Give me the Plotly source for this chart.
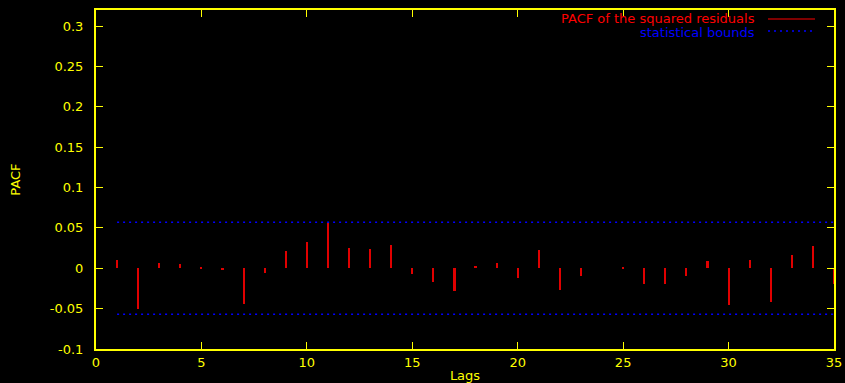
import plotly.graph_objects as go

lags = list(range(1, 36))
pacf = [0.010, -0.051, 0.006, 0.005, 0.002, -0.001, -0.044, -0.006, 0.021, 0.032,
        0.056, 0.025, 0.0235, 0.0285, -0.007, -0.017, -0.028, 0.003, 0.0066, -0.012,
        0.0227, -0.027, -0.009, 0.0, 0.002, -0.019, -0.020, -0.0095, 0.0087, -0.045,
        0.010, -0.042, 0.016, 0.027, -0.019]
bound_x = [1, 35]
upper_bound = [0.057, 0.057]
lower_bound = [-0.057, -0.057]
x_ticks = [0, 5, 10, 15, 20, 25, 30, 35]
y_ticks = [-0.1, -0.05, 0, 0.05, 0.1, 0.15, 0.2, 0.25, 0.3]
y_tick_text = ["-0.1", "-0.05", "0", "0.05", "0.1", "0.15", "0.2", "0.25", "0.3"]

YEL = "#ffff00"
FONT = "DejaVu Sans"

fig = go.Figure()
fig.add_trace(go.Bar(x=lags, y=pacf, width=0.1, marker=dict(color="#e00000", line=dict(width=0)),
                     name="PACF of the squared residuals", showlegend=False, cliponaxis=False))
for yb in (upper_bound, lower_bound):
    fig.add_trace(go.Scatter(x=bound_x, y=yb, mode="lines",
                             line=dict(color="#0000ff", width=1.5, dash="2px,4px"),
                             showlegend=False, hoverinfo="skip"))

W, H = 845, 383
L, R, T, B = 96, 11, 10, 34
pw, ph = W - L - R, H - T - B

def px(x):
    return (x - L) / pw

def py(y):
    return (H - B - y) / ph

fig.add_annotation(x=px(757), y=py(18), xref="paper", yref="paper", xanchor="right", yanchor="middle",
                   text="PACF of the squared residuals", showarrow=False,
                   font=dict(family=FONT, size=13, color="#ff0000"))
fig.add_annotation(x=px(757), y=py(32), xref="paper", yref="paper", xanchor="right", yanchor="middle",
                   text="statistical bounds", showarrow=False,
                   font=dict(family=FONT, size=13, color="#0000ff"))
fig.add_shape(type="line", xref="paper", yref="paper", x0=px(768), x1=px(815), y0=py(19), y1=py(19),
              line=dict(color="#aa0000", width=1.5))
fig.add_shape(type="line", xref="paper", yref="paper", x0=px(768), x1=px(815), y0=py(31), y1=py(31),
              line=dict(color="#0000ff", width=1.5, dash="2px,4px"))

fig.update_layout(
    width=W, height=H,
    margin=dict(l=L, r=R, t=T, b=B, pad=0, autoexpand=False),
    paper_bgcolor="#000000", plot_bgcolor="#000000",
    font=dict(family=FONT, size=13, color=YEL),
    bargap=0,
    xaxis=dict(range=[0, 35], tickvals=x_ticks, ticks="inside", ticklen=7, tickcolor=YEL,
               showline=True, linecolor=YEL, linewidth=2, mirror="ticks", showgrid=False,
               zeroline=False, automargin=False, tickfont=dict(family=FONT, size=13, color=YEL),
               title=dict(text="Lags", font=dict(family=FONT, size=13, color=YEL), standoff=4)),
    yaxis=dict(range=[-0.1, 0.32], tickvals=y_ticks, ticktext=y_tick_text, ticks="inside", ticklen=7,
               tickcolor=YEL, showline=True, linecolor=YEL, linewidth=2, mirror="ticks",
               showgrid=False, zeroline=False, ticklabelstandoff=8, automargin=False,
               tickfont=dict(family=FONT, size=13, color=YEL),
               title=dict(text="PACF", font=dict(family=FONT, size=13, color=YEL), standoff=26)),
)

fig.write_html("out.html")
